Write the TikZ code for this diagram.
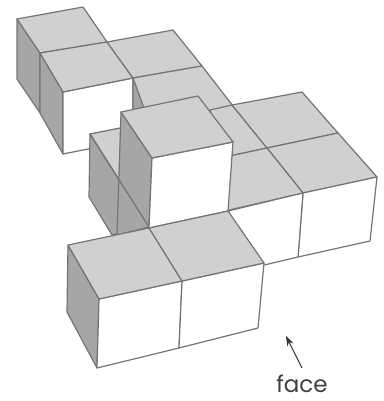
\documentclass[tikz,border=0pt]{standalone}
\usepackage{fontspec}
\setmainfont{Poppins}
\usetikzlibrary{arrows.meta}
\definecolor{edgec}{HTML}{747474}
\definecolor{topc}{HTML}{D0D0D0}
\definecolor{sidec}{HTML}{A6A6A6}
\tikzset{
  topf/.style={fill=topc,draw=edgec,line width=1.2pt,line join=round},
  sidef/.style={fill=sidec,draw=edgec,line width=1.2pt,line join=round},
  frontf/.style={fill=white,draw=edgec,line width=1.2pt,line join=round},
  label/.style={font=\fontsize{23}{26}\selectfont,text=black!75,inner sep=0pt}
}
\begin{document}
\begin{tikzpicture}[x=1pt,y=-1pt]
\useasboundingbox (0,0) rectangle (383,401);
% back row
\draw[sidef] (17,19) -- (17,79) -- (40,113) -- (40,53) -- cycle;
\draw[sidef] (40,53) -- (40,113) -- (63,154) -- (63,92) -- cycle;
\draw[frontf] (63,92) -- (133,78) -- (133,140) -- (63,154) -- cycle;
\draw[topf] (17,19) -- (83,7) -- (107,42) -- (40,53) -- cycle;
\draw[topf] (40,53) -- (107,42) -- (133,78) -- (63,92) -- cycle;
\draw[topf] (107,42) -- (173,30) -- (202,66) -- (133,78) -- cycle;
\draw[sidef] (133,78) -- (133,112) -- (152,108) -- cycle;
\draw[topf] (133,78) -- (202,66) -- (240,115) -- (152,130) -- cycle;
% right block
\draw[topf] (210,110) -- (232,105) -- (267,148) -- (225,157) -- cycle;
\draw[topf] (232,105) -- (302,92) -- (338,133) -- (267,148) -- cycle;
\draw[topf] (267,148) -- (338,133) -- (377,177) -- (303,193) -- cycle;
\draw[topf] (225,157) -- (267,148) -- (303,193) -- (225,211) -- cycle;
\draw[frontf] (303,193) -- (377,177) -- (370,241) -- (298,257) -- cycle;
\draw[frontf] (228,211) -- (303,193) -- (298,257) -- (260,266) -- cycle;
% low back cube
\draw[topf] (90,134) -- (125,127) -- (125,190) -- cycle;
\draw[sidef] (90,134) -- (89,197) -- (112,235) -- (149,227) -- cycle;
% tall cube
\draw[sidef] (121,112) -- (117,235) -- (149,227) -- (152,158) -- cycle;
\draw[edgec,line width=1.2pt] (90,134) -- (149,227);
\draw[frontf] (152,158) -- (233,142) -- (228,211) -- (149,228) -- cycle;
\draw[topf] (121,112) -- (198,96) -- (233,142) -- (152,158) -- cycle;
% front row
\draw[sidef] (68,245) -- (67,312) -- (97,368) -- (99,299) -- cycle;
\draw[frontf] (99,299) -- (182,281) -- (179,348) -- (97,368) -- cycle;
\draw[frontf] (182,281) -- (264,263) -- (258,328) -- (179,348) -- cycle;
\draw[topf] (68,245) -- (149,228) -- (182,281) -- (99,299) -- cycle;
\draw[topf] (149,228) -- (228,211) -- (264,263) -- (182,281) -- cycle;
% label
\node[label] (face) at (302,384) {face};
\coordinate (tip) at (286,336);
\coordinate (tail) at (302,368);
\draw[-{Stealth[length=10pt,width=7pt]},black!80,line width=1pt] (tail) -- (tip);
\end{tikzpicture}
\end{document}
